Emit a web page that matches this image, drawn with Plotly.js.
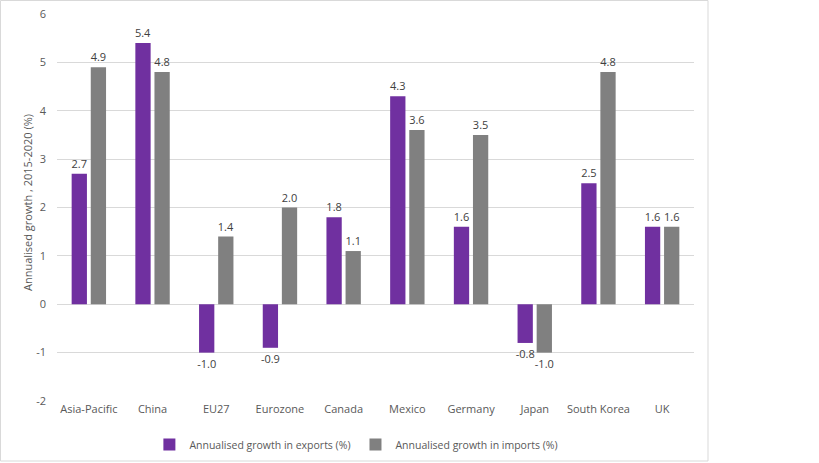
<!DOCTYPE html>
<html><head><meta charset="utf-8">
<script src="https://cdn.plot.ly/plotly-3.0.1.min.js"></script>
<style>body{margin:0;background:#fff}#c{width:819px;height:463px}</style>
</head><body><div id="c"></div>
<script>
const categories = ["Asia-Pacific","China","EU27","Eurozone","Canada","Mexico","Germany","Japan","South Korea","UK"];
const exportsGrowth = [2.7,5.4,-1.0,-0.9,1.8,4.3,1.6,-0.8,2.5,1.6];
const importsGrowth = [4.9,4.8,1.4,2.0,1.1,3.6,3.5,-1.0,4.8,1.6];
const seriesNames = ["Annualised growth in exports (%)","Annualised growth in imports (%)"];
const yTickValues = [-2,-1,0,1,2,3,4,5,6];
const yTitle = 'Annualised growth , 2015-2020 (%)';

const fontFam = "Open Sans, Noto Sans, sans-serif";
const common = {type:'bar', x:categories, textposition:'outside',
  cliponaxis:false, constraintext:'none', textfont:{family:fontFam,size:11,color:'#404040'}, hoverinfo:'skip'};
const data = [
  Object.assign({}, common, {y:exportsGrowth, text:exportsGrowth.map(v=>v.toFixed(1)), name:seriesNames[0], marker:{color:'#7030A0'}}),
  Object.assign({}, common, {y:importsGrowth, text:importsGrowth.map(v=>v.toFixed(1)), name:seriesNames[1], marker:{color:'#808080'}})
];
const L=57, R=694, T=14, B=401;
const W=R-L, H=B-T;
const layout = {
  width:819, height:463,
  margin:{l:L, r:819-R, t:T, b:463-B, pad:0, autoexpand:false},
  paper_bgcolor:'#fff', plot_bgcolor:'#fff',
  font:{family:fontFam, size:11, color:'#595959'},
  barmode:'group', bargap:0.40, bargroupgap:0.2,
  showlegend:true,
  legend:{orientation:'h', x:0.47, xanchor:'center', y:(B-430)/H, yanchor:'top',
    font:{size:10.5,color:'#595959'}, itemwidth:30, traceorder:'normal'},
  xaxis:{showgrid:false, showline:false, ticks:'', tickfont:{size:11,color:'#595959'}, automargin:false},
  yaxis:{range:[-2,6], tickvals:yTickValues, ticktext:yTickValues.map(String), showgrid:true, gridcolor:'#d9d9d9', gridwidth:1,
    zeroline:true, zerolinecolor:'#d9d9d9', zerolinewidth:1, showline:false, ticks:'',
    ticklabelstandoff:10, tickfont:{size:11,color:'#595959'}, automargin:false},
  annotations:[{text:yTitle, textangle:-90, xref:'paper', yref:'paper', x:(27-L)/W, y:(B-203)/H,
    xanchor:'center', yanchor:'middle', showarrow:false, font:{size:11,color:'#595959'}}],
  shapes:[{type:'rect', xref:'paper', yref:'paper',
    x0:(0.5-L)/W, x1:(708-L)/W, y0:(B-461)/H, y1:(B-0.5)/H,
    line:{color:'#d9d9d9', width:1}, fillcolor:'rgba(0,0,0,0)', layer:'below'}]
};
Plotly.newPlot('c', data, layout, {staticPlot:true, displayModeBar:false});
</script></body></html>
